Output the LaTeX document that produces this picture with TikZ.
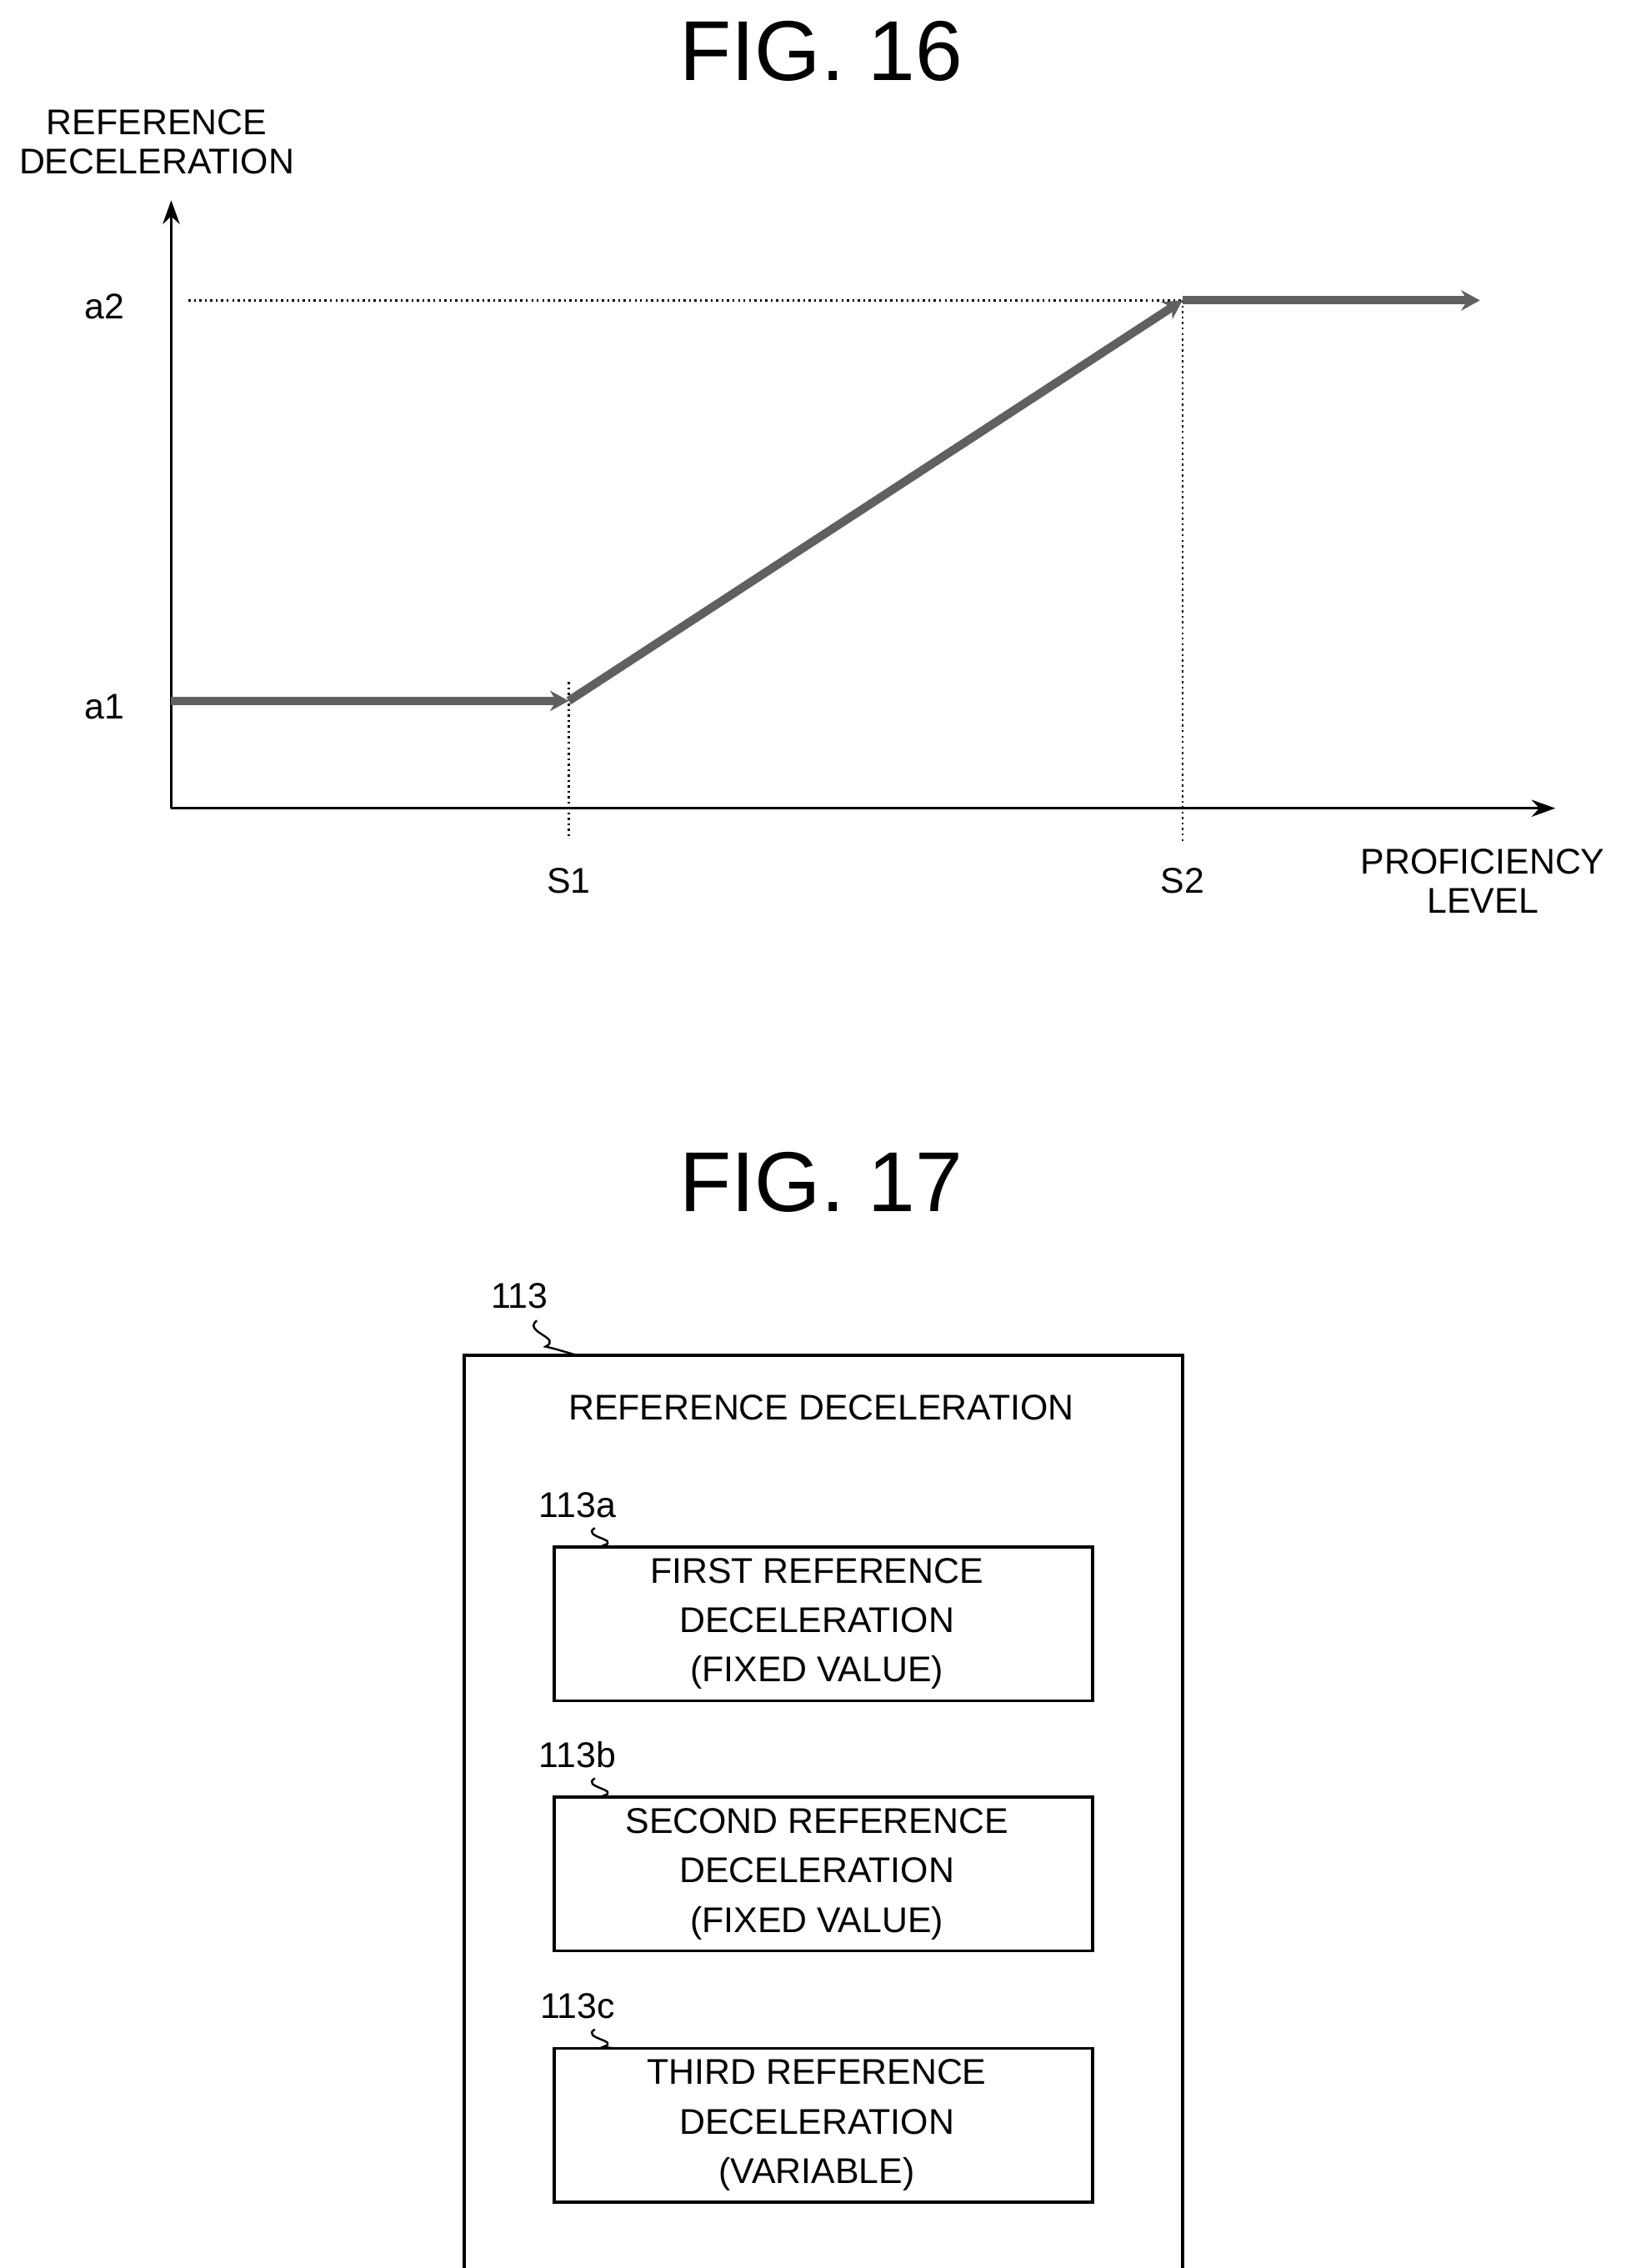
\documentclass[tikz,border=0pt]{standalone}
\usepackage{fontspec}
\setmainfont{Liberation Sans}
\usetikzlibrary{arrows.meta}
\begin{document}
\begin{tikzpicture}[x=0.03cm,y=-0.03cm,
  ax/.style={line width=1.6pt,-{Stealth[length=14pt,width=10pt]}},
  curve/.style={line width=5pt,gray!75!black,-{Stealth[length=11pt,width=12pt]}},
  dot/.style={line width=1.2pt,dotted},
  lbl/.style={font=\fontsize{21}{23}\selectfont,align=center,inner sep=0pt},
  ttl/.style={font=\fontsize{50}{56}\selectfont,inner sep=0pt},
  box/.style={draw,line width=1.7pt},
  sq/.style={line width=1.2pt}]
\useasboundingbox (0,0) rectangle (1131,1563);
% FIG 16
\node[ttl] (t16) at (566,35) {FIG. 16};
\coordinate (O) at (118,557);
\coordinate (ytop) at (118,138);
\coordinate (xend) at (1072,557);
\draw[ax] (O) -- (ytop);
\draw[ax] (O) -- (xend);
\node[lbl] (ylab) at (108,98) {REFERENCE\\DECELERATION};
\node[lbl] (xlab) at (1022,607) {PROFICIENCY\\LEVEL};
\coordinate (a1p) at (118,483);
\coordinate (s1p) at (392,483);
\coordinate (s2p) at (815,207);
\coordinate (endp) at (1020,207);
\draw[dot] (130,207) -- (s2p);
\draw[dot] (392,470) -- (392,578);
\draw[dot] (s2p) -- (815,580);
\node[lbl] (a2) at (72,211) {a2};
\node[lbl] (a1) at (72,487) {a1};
\node[lbl] (s1) at (392,607) {S1};
\node[lbl] (s2) at (815,607) {S2};
\draw[curve] (a1p) -- (s1p);
\draw[curve] (s1p) -- (s2p);
\draw[curve] (s2p) -- (endp);
% FIG 17
\node[ttl] (t17) at (566,815) {FIG. 17};
\node[box,minimum width=495*0.03cm,minimum height=649*0.03cm] (outer) at (567.5,1258.5) {};
\node[lbl] (rd) at (566,970) {REFERENCE DECELERATION};
\node[lbl] (n113) at (358,893) {113};
\draw[sq] (370,910) .. controls (360,918) and (388,922) .. (376,928) .. controls (385,930) and (390,932) .. (398,934);
\foreach \n/\y/\a/\b/\c in {a/1119/FIRST REFERENCE/DECELERATION/(FIXED VALUE),
                          b/1291.5/SECOND REFERENCE/DECELERATION/(FIXED VALUE),
                          c/1464.5/THIRD REFERENCE/DECELERATION/(VARIABLE)}{
  \node[box,minimum width=371*0.03cm,minimum height=106*0.03cm] (b\n) at (567.5,\y) {};
  \node[lbl,font=\fontsize{21}{29}\selectfont] (t\n) at (563,\y) {\a\\\b\\\c};
  \node[lbl] (l\n) at (398,\y-53-29) {113\n};
  \draw[sq] (410,\y-53-13) .. controls (400,\y-53-7) and (428,\y-53-5) .. (416,\y-53-1) .. controls (426,\y-53+1) and (432,\y-53) .. (438,\y-53);
}
\end{tikzpicture}
\end{document}
